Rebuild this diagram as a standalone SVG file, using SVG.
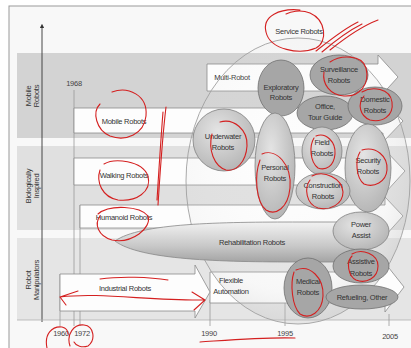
<svg xmlns="http://www.w3.org/2000/svg" width="411" height="348" viewBox="0 0 411 348">
<defs>
<style>
text{font-family:"Liberation Sans",Arial,sans-serif;fill:#333;font-size:7.5px;text-anchor:middle;letter-spacing:-0.25px}
.yr{font-size:7.5px;fill:#444}
.arrow{fill:#fdfdfd;stroke:#8a8a8a;stroke-width:0.8}
.dark{fill:#a6a6a6;stroke:#707070;stroke-width:0.8}
.lite{fill:url(#gLite);stroke:#808080;stroke-width:0.8}
.tick{stroke:#9a9a9a;stroke-width:0.8;fill:none}
.red{fill:none;stroke:#d42020;stroke-width:1.1;stroke-linecap:round}
</style>
<radialGradient id="gLite" cx="0.4" cy="0.35" r="0.7">
<stop offset="0" stop-color="#e4e4e4"/><stop offset="1" stop-color="#b4b4b4"/>
</radialGradient>
<radialGradient id="gSphere" cx="0.45" cy="0.4" r="0.6">
<stop offset="0" stop-color="#ffffff" stop-opacity="0"/><stop offset="0.8" stop-color="#d8d8d8" stop-opacity="0.15"/><stop offset="1" stop-color="#bbbbbb" stop-opacity="0.3"/>
</radialGradient>
<linearGradient id="gRehab" x1="0" y1="0" x2="0" y2="1">
<stop offset="0" stop-color="#f2f2f2"/><stop offset="0.6" stop-color="#c8c8c8"/><stop offset="1" stop-color="#a4a4a4"/>
</linearGradient>
<marker id="ax" viewBox="0 0 6 6" refX="3" refY="3" markerWidth="5" markerHeight="5" orient="auto">
<path d="M0,0 L6,3 L0,6 Z" fill="#333"/>
</marker>
</defs>

<!-- frame and background -->
<rect x="0" y="0" width="411" height="348" fill="#ffffff"/>
<rect x="9" y="6" width="410" height="350" fill="#f8f8f8" stroke="#999" stroke-width="1"/>

<!-- bands -->
<rect x="17" y="53" width="394" height="85" fill="#d3d3d3"/>
<rect x="17" y="146" width="394" height="84" fill="#e0e0e0"/>
<rect x="17" y="238" width="394" height="82" fill="#e5e5e5"/>

<!-- band labels -->
<g id="band-mobile">
<text transform="translate(31,96) rotate(-90)">Mobile</text>
<text transform="translate(39,96) rotate(-90)">Robots</text>
</g>
<g id="band-bio">
<text transform="translate(31,186) rotate(-90)">Biologically</text>
<text transform="translate(39,186) rotate(-90)">Inspired</text>
</g>
<g id="band-manip">
<text transform="translate(31,280) rotate(-90)">Robot</text>
<text transform="translate(39,280) rotate(-90)">Manipulators</text>
</g>

<!-- axis -->
<g id="axis">
<line x1="42" y1="322" x2="42" y2="26" stroke="#333" stroke-width="0.9" marker-end="url(#ax)"/>
<line x1="17" y1="320" x2="411" y2="320" stroke="#b0b0b0" stroke-width="0.8"/>
</g>

<!-- time ticks -->
<g id="ticks">
<line class="tick" x1="60" y1="274" x2="60" y2="326"/>
<line class="tick" x1="74" y1="90" x2="74" y2="326"/>
<line class="tick" x1="80" y1="205" x2="80" y2="326"/>
<line class="tick" x1="210" y1="300" x2="210" y2="326"/>
<line class="tick" x1="285" y1="300" x2="285" y2="326"/>
<line class="tick" x1="389" y1="314" x2="389" y2="326"/>
<text class="yr" x="74" y="86">1968</text>
<text class="yr" x="61" y="336">1960</text>
<text class="yr" x="82" y="336">1972</text>
<text class="yr" x="209" y="336">1990</text>
<text class="yr" x="285" y="336">1995</text>
<text class="yr" x="390" y="339">2005</text>
</g>

<!-- arrows -->
<g id="arrow-multi"><polygon class="arrow" points="207,64 378,64 378,55 398,77 378,99 378,91 207,91"/>
<text x="232" y="80">Multi-Robot</text></g>
<g id="arrow-mobile"><polygon class="arrow" points="74,108 383,108 383,100 403,121 383,142 383,133 74,133"/>
<text x="124" y="124">Mobile Robots</text></g>
<g id="arrow-walking"><polygon class="arrow" points="74,158 385,158 385,150 405,171 385,193 385,185 74,185"/>
<text x="124" y="178">Walking Robots</text></g>
<g id="arrow-humanoid"><polygon class="arrow" points="80,205 385,205 385,197 403,216 385,236 385,228 80,228"/>
<text x="124" y="220">Humanoid Robots</text></g>
<g id="arrow-flexible"><polygon class="arrow" points="210,272 385,272 385,263 404,287 385,312 385,303 210,303"/></g>
<g id="arrow-industrial"><polygon class="arrow" points="60,274 195,274 195,265 210,292 195,318 195,311 60,311"/>
<text x="125" y="291">Industrial Robots</text></g>

<!-- service robots sphere -->
<g id="service">
<ellipse cx="298" cy="181" rx="112" ry="143" fill="url(#gSphere)" stroke="#a0a0a0" stroke-width="0.9"/>
<text x="299" y="34">Service Robots</text>
</g>

<!-- flexible automation label, above the sphere shading -->
<g id="flexible-label"><text x="231" y="283">Flexible</text><text x="231" y="294">Automation</text></g>

<!-- rehabilitation -->
<g id="rehab">
<path d="M115,241 C140,223 220,222 300,222 L345,222 A20,20 0 0 1 345,262 L300,262 C220,262 140,260 115,241 Z" fill="url(#gRehab)" stroke="#888" stroke-width="0.8"/>
<text x="252" y="245">Rehabilitation Robots</text>
</g>

<!-- nodes -->
<g id="exploratory"><ellipse class="dark" cx="281" cy="88" rx="23" ry="28"/>
<text x="281" y="90">Exploratory</text><text x="281" y="100">Robots</text></g>
<g id="surveillance"><ellipse class="dark" cx="339" cy="75" rx="29" ry="20"/>
<text x="339" y="72">Surveillance</text><text x="339" y="83">Robots</text></g>
<g id="office"><ellipse class="dark" cx="325" cy="113" rx="28" ry="17"/>
<text x="325" y="109">Office,</text><text x="325" y="120">Tour Guide</text></g>
<g id="domestic"><ellipse class="dark" cx="375" cy="106" rx="27" ry="19"/>
<text x="375" y="102">Domestic</text><text x="375" y="113">Robots</text></g>
<g id="underwater"><circle class="lite" cx="224" cy="140" r="31"/>
<text x="223" y="139">Underwater</text><text x="223" y="150">Robots</text></g>
<g id="personal"><ellipse class="lite" cx="275" cy="166" rx="20" ry="53"/>
<text x="275" y="170">Personal</text><text x="275" y="181">Robots</text></g>
<g id="security"><ellipse class="lite" cx="368" cy="168" rx="23" ry="44"/>
<text x="368" y="163">Security</text><text x="368" y="174">Robots</text></g>
<g id="field"><ellipse class="lite" cx="322" cy="151" rx="20" ry="24"/>
<text x="322" y="145">Field</text><text x="322" y="156">Robots</text></g>
<g id="construction"><ellipse class="lite" cx="323" cy="191" rx="27" ry="18"/>
<text x="323" y="188">Construction</text><text x="323" y="199">Robots</text></g>
<g id="power"><ellipse class="lite" cx="361" cy="231" rx="28" ry="19"/>
<text x="361" y="227">Power</text><text x="361" y="238">Assist</text></g>
<g id="assistive"><ellipse class="dark" cx="361" cy="266" rx="28" ry="17"/>
<text x="361" y="264">Assistive</text><text x="361" y="276">Robots</text></g>
<g id="medical"><ellipse class="dark" cx="308" cy="288" rx="24" ry="30" fill="#9c9c9c"/>
<text x="308" y="284">Medical</text><text x="308" y="295">Robots</text></g>
<g id="refueling"><ellipse class="dark" cx="362" cy="297" rx="36" ry="12"/>
<text x="362" y="300">Refueling, Other</text></g>

<!-- hand annotations -->
<g id="annotations">
<path class="red" d="M300,10 C280,8 262,16 266,32 C270,50 300,55 316,48 C328,42 326,20 310,13 C300,9 290,12 286,14"/>
<path class="red" d="M316,51 C330,40 345,28 358,22 M322,52 C336,40 350,30 362,24 M330,50 C345,38 362,26 378,20"/>
<path class="red" d="M330,62 C340,55 362,54 366,68 C370,84 360,97 344,96 C330,95 322,84 324,72"/>
<path class="red" d="M362,92 C372,86 390,88 392,102 C394,116 382,123 370,120 C360,116 357,104 364,96"/>
<path class="red" d="M112,92 C128,86 148,95 146,116 C144,134 126,142 110,136 C96,130 92,112 100,104"/>
<path class="red" d="M166,107 C162,140 160,175 158,205 M163,112 C160,150 158,185 157,200"/>
<path class="red" d="M104,164 C114,158 142,160 148,176 C152,192 136,202 118,200 C102,197 96,182 100,170"/>
<path class="red" d="M98,214 C110,204 140,206 148,216 C152,228 132,244 112,240 C98,236 94,224 100,216"/>
<path class="red" d="M100,279 C120,276 150,277 168,280"/>
<path class="red" d="M60,297 C100,292 150,301 205,300 M60,297 L78,291 M60,297 L66,305 M205,300 L192,292 M205,300 L194,310"/>
<path class="red" d="M47,348 C44,334 52,326 62,327 C66,328 68,331 68,334"/>
<path class="red" d="M70,346 C66,334 74,324 84,325 C94,326 96,340 88,346 C82,348 76,346 74,342"/>
<path class="red" d="M200,342 C230,340 265,337 295,338"/>
<path class="red" d="M220,122 C234,118 248,130 247,146 C246,162 236,172 226,170 C214,166 208,150 212,134"/>
<path class="red" d="M316,136 C326,132 336,142 335,154 C334,166 326,171 318,168 C310,162 309,146 314,138"/>
<path class="red" d="M262,154 C276,148 292,164 290,188 C288,208 276,216 266,210 C256,202 254,176 260,160"/>
<path class="red" d="M362,150 C376,146 388,156 387,170 C386,182 374,188 364,184 C356,178 355,160 360,152"/>
<path class="red" d="M312,176 C324,170 342,178 343,192 C343,204 330,211 318,208 C306,204 304,188 310,180"/>
<path class="red" d="M296,270 C310,264 324,278 323,296 C322,312 310,320 300,314 C292,306 290,284 294,272"/>
<path class="red" d="M352,254 C362,248 378,254 378,266 C378,278 366,284 356,280 C348,276 346,262 352,256"/>
</g>
</svg>
